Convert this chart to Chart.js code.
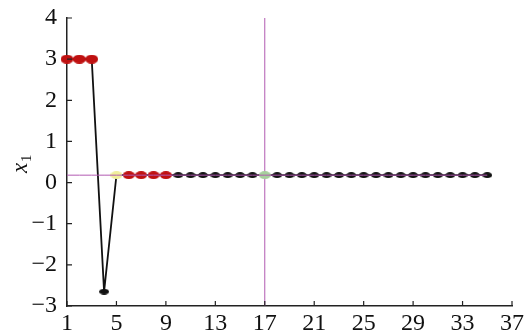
<!DOCTYPE html>
<html>
<head>
<meta charset="utf-8">
<script src="https://cdn.jsdelivr.net/npm/chart.js@4/dist/chart.umd.min.js"></script>
<style>
  body { margin: 0; background: #fff; }
  canvas { display: block; }
</style>
</head>
<body>
<canvas id="chart-area" width="530" height="334"></canvas>
<script>
// iteration index and value of x1
var steps = [1, 2, 3, 4, 5, 6, 7, 8, 9, 10, 11, 12, 13, 14, 15, 16, 17, 18,
             19, 20, 21, 22, 23, 24, 25, 26, 27, 28, 29, 30, 31, 32, 33, 34, 35];
var x1Values = [3, 3, 3, -2.65, 0.18, 0.18, 0.18, 0.18, 0.18, 0.18, 0.18, 0.18,
                0.18, 0.18, 0.18, 0.18, 0.18, 0.18, 0.18, 0.18, 0.18, 0.18, 0.18,
                0.18, 0.18, 0.18, 0.18, 0.18, 0.18, 0.18, 0.18, 0.18, 0.18, 0.18, 0.18];
// marker kind per point: R = red (big), r = red, k = black, y = yellow, g = green
var markerKinds = ['R', 'R', 'R', 'k', 'y', 'r', 'r', 'r', 'r', 'k', 'k', 'k',
                   'k', 'k', 'k', 'k', 'g', 'k', 'k', 'k', 'k', 'k', 'k', 'k',
                   'k', 'k', 'k', 'k', 'k', 'k', 'k', 'k', 'k', 'k', 'k'];
var equilibriumLevel = 0.18;
var markedStep = 17;
var xTicks = [1, 5, 9, 13, 17, 21, 25, 29, 33, 37];
var yTicks = [-3, -2, -1, 0, 1, 2, 3, 4];

function ellipse(color, w, h) {
    var c = document.createElement('canvas');
    c.width = w; c.height = h;
    var g = c.getContext('2d');
    g.fillStyle = color;
    g.beginPath();
    g.ellipse(w / 2, h / 2, w / 2, h / 2, 0, 0, Math.PI * 2);
    g.fill();
    return c;
}

var markers = {
    R: ellipse('#bf1010', 13, 9),
    r: ellipse('#bf1010', 12, 8),
    k: ellipse('#111111', 10, 6),
    y: ellipse('#f0ee9a', 12, 8),
    g: ellipse('#a6cf9c', 12, 8)
};

var serif = '"Liberation Serif", "DejaVu Serif", serif';

var innerTicks = {
    id: 'innerTicks',
    afterDraw: function(chart) {
        var ctx = chart.ctx, a = chart.chartArea;
        var xs = chart.scales.x, ys = chart.scales.y;
        ctx.save();
        ctx.strokeStyle = '#222';
        ctx.lineWidth = 1.2;
        ctx.beginPath();
        xTicks.forEach(function(v) {
            var p = xs.getPixelForValue(v);
            ctx.moveTo(p, a.bottom); ctx.lineTo(p, a.bottom - 5);
        });
        yTicks.forEach(function(v) {
            var p = ys.getPixelForValue(v);
            ctx.moveTo(a.left, p); ctx.lineTo(a.left + 5, p);
        });
        ctx.stroke();
        // y axis title x1
        ctx.translate(21, 163);
        ctx.rotate(-Math.PI / 2);
        ctx.fillStyle = '#111';
        ctx.textBaseline = 'alphabetic';
        ctx.font = 'italic 23px ' + serif;
        ctx.fillText('x', -10, 6);
        ctx.font = '15px ' + serif;
        ctx.fillText('1', 1, 10);
        ctx.restore();
    }
};

var config = {
    type: 'line',
    data: {
        datasets: [{
            data: steps.map(function(s) { return { x: s, y: equilibriumLevel }; }),
            borderColor: '#b25ab2',
            borderWidth: 1,
            pointRadius: 0,
            fill: false
        }, {
            data: steps.map(function(s, i) { return { x: s, y: x1Values[i] }; }),
            borderColor: '#111111',
            borderWidth: 1.8,
            pointStyle: markerKinds.map(function(k) { return markers[k]; }),
            pointRadius: 5,
            clip: false,
            fill: false
        }, {
            data: [{ x: markedStep, y: -3 }, { x: markedStep, y: 4 }],
            borderColor: '#b25ab2',
            borderWidth: 1,
            pointRadius: 0,
            fill: false
        }]
    },
    options: {
        responsive: false,
        animation: false,
        layout: { padding: { left: 0, right: 18, top: 18, bottom: 0 } },
        plugins: { legend: { display: false }, tooltip: { enabled: false } },
        scales: {
            x: {
                type: 'linear',
                min: 1,
                max: 37,
                afterBuildTicks: function(s) { s.ticks = xTicks.map(function(v) { return { value: v }; }); },
                afterFit: function(s) { s.height = 28; },
                grid: { display: false, drawTicks: false },
                border: { display: true, color: '#222', width: 1.5 },
                ticks: { color: '#111', padding: 3, maxRotation: 0, font: { family: serif, size: 24 } }
            },
            y: {
                type: 'linear',
                min: -3,
                max: 4,
                afterBuildTicks: function(s) { s.ticks = yTicks.map(function(v) { return { value: v }; }); },
                afterFit: function(s) { s.width = 67; s.paddingTop = 0; s.paddingBottom = 0; },
                grid: { display: false, drawTicks: false },
                border: { display: true, color: '#222', width: 1.5 },
                ticks: {
                    color: '#111',
                    padding: 10,
                    font: { family: serif, size: 24 },
                    callback: function(v) { return String(v).replace('-', '\u2212'); }
                }
            }
        }
    },
    plugins: [innerTicks]
};

var ctx = document.getElementById('chart-area').getContext('2d');
window.x1Chart = new Chart(ctx, config);
</script>
</body>
</html>
